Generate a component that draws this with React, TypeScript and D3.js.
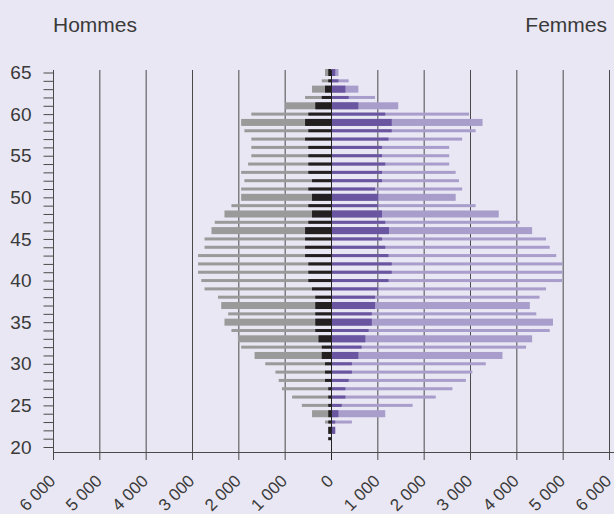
import * as d3 from 'd3';
import React, { useEffect, useRef } from 'react';

// Ages, from top to bottom
const ages = [65, 64, 63, 62, 61, 60, 59, 58, 57, 56, 55, 54, 53, 52, 51, 50, 49, 48, 47, 46, 45, 44, 43,
    42, 41, 40, 39, 38, 37, 36, 35, 34, 33, 32, 31, 30, 29, 28, 27, 26, 25, 24, 23, 22, 21];

// Hommes: total (gris) and inner part (noir)
const menTotal = [140, 210, 420, 570, 1000, 1730, 1950, 1880, 1730, 1730, 1730, 1800, 1950, 1880, 1950, 1950,
    2160, 2310, 2520, 2590, 2740, 2740, 2880, 2880, 2880, 2810, 2740, 2450, 2380, 2230, 2310, 2160, 2020, 1950,
    1660, 1430, 1210, 1140, 1070, 850, 640, 420, 140, 70, 70];
const menPart = [70, 70, 140, 210, 350, 500, 570, 500, 570, 500, 500, 500, 500, 420, 500, 420,
    500, 420, 500, 570, 570, 570, 570, 500, 500, 500, 420, 350, 350, 350, 350, 350, 280, 210,
    210, 140, 140, 140, 70, 70, 70, 70, 70, 70, 70];

// Femmes: inner part (violet foncé) and total (violet clair)
const womenPart = [80, 150, 300, 370, 580, 1160, 1300, 1300, 1230, 1090, 1090, 1160, 1090, 1090, 940, 1010,
    1010, 1090, 1160, 1240, 1090, 1160, 1230, 1300, 1300, 1230, 1010, 940, 940, 870, 870, 800, 730, 650,
    580, 440, 440, 370, 300, 300, 220, 150, 80, 80, 0];
const womenTotal = [150, 370, 580, 940, 1440, 2970, 3260, 3110, 2820, 2540, 2540, 2540, 2680, 2750, 2820, 2680,
    3110, 3610, 4060, 4330, 4630, 4710, 4850, 4990, 4990, 4980, 4630, 4490, 4280, 4420, 4780, 4710, 4330, 4200,
    3690, 3330, 3040, 2900, 2610, 2250, 1750, 1160, 440, 80, 0];

// ages drawn with a wide bar
const wideAges = [65, 63, 61, 59, 50, 48, 46, 37, 35, 33, 31, 24, 22];

const xTicks = [0, 1000, 2000, 3000, 4000, 5000, 6000];
const yTicks = [20, 25, 30, 35, 40, 45, 50, 55, 60, 65];

function PyramidChart() {
    const ref = useRef(null);

    useEffect(() => {
        const width = 614;
        const height = 514;
        const font = '"Liberation Sans", Arial, sans-serif';
        const textColor = '#3a3a3a';
        const gridColor = '#4a4a4a';

        const svg = d3.select(ref.current);
        svg.selectAll('*').remove();
        svg.attr('width', width).attr('height', height);

        svg.append('rect')
            .attr('width', width)
            .attr('height', height)
            .attr('fill', '#e9e7f3');

        // scales: men to the left, women to the right
        const xL = d3.scaleLinear().domain([0, 6000]).range([331.5, 53.5]);
        const xR = d3.scaleLinear().domain([0, 6000]).range([331.5, 609.5]);
        const y = d3.scaleLinear().domain([20, 65]).range([447, 72.5]);

        const gridTop = 70;
        const gridBottom = 460;
        const axisY = 452.5;

        // vertical gridlines (and ticks under the axis)
        const grid = svg.append('g');
        xTicks.forEach((v) => {
            [xL(v), xR(v)].forEach((px) => {
                grid.append('line')
                    .attr('x1', px).attr('x2', px)
                    .attr('y1', gridTop).attr('y2', gridBottom)
                    .attr('stroke', gridColor)
                    .attr('stroke-width', 1);
            });
        });

        // bars
        const rows = ages.map((age, i) => ({
            age,
            menTotal: menTotal[i],
            menPart: menPart[i],
            womenPart: womenPart[i],
            womenTotal: womenTotal[i],
        }));
        const barH = (d) => (wideAges.includes(d.age) ? 7 : 3);

        const bars = svg.append('g');
        bars.selectAll('.men-total').data(rows).join('rect')
            .attr('x', (d) => xL(d.menTotal))
            .attr('y', (d) => y(d.age) - barH(d) / 2)
            .attr('width', (d) => xL(0) - xL(d.menTotal))
            .attr('height', barH)
            .attr('fill', '#9a9a9a');
        bars.selectAll('.men-part').data(rows).join('rect')
            .attr('x', (d) => xL(d.menPart))
            .attr('y', (d) => y(d.age) - barH(d) / 2)
            .attr('width', (d) => xL(0) - xL(d.menPart))
            .attr('height', barH)
            .attr('fill', '#231f20');
        bars.selectAll('.women-total').data(rows).join('rect')
            .attr('x', xR(0))
            .attr('y', (d) => y(d.age) - barH(d) / 2)
            .attr('width', (d) => xR(d.womenTotal) - xR(0))
            .attr('height', barH)
            .attr('fill', '#a89dcb');
        bars.selectAll('.women-part').data(rows).join('rect')
            .attr('x', xR(0))
            .attr('y', (d) => y(d.age) - barH(d) / 2)
            .attr('width', (d) => xR(d.womenPart) - xR(0))
            .attr('height', barH)
            .attr('fill', '#6a55a0');

        // zero line on top of the bars
        svg.append('line')
            .attr('x1', xL(0)).attr('x2', xL(0))
            .attr('y1', gridTop).attr('y2', gridBottom)
            .attr('stroke', '#222')
            .attr('stroke-width', 1);

        // y axis
        const yAxis = svg.append('g')
            .attr('transform', `translate(${xL(6000)},0)`)
            .call(d3.axisLeft(y)
                .tickValues(d3.range(20, 66))
                .tickSize(10)
                .tickSizeOuter(0)
                .tickPadding(12)
                .tickFormat((d) => (yTicks.includes(d) ? String(d) : '')));
        yAxis.select('.domain').remove();
        yAxis.selectAll('line').attr('stroke', gridColor);
        yAxis.selectAll('text')
            .attr('fill', textColor)
            .style('font-family', font)
            .style('font-size', '19px');
        svg.append('line')
            .attr('x1', xL(6000)).attr('x2', xL(6000))
            .attr('y1', gridTop).attr('y2', gridBottom)
            .attr('stroke', gridColor);

        // x axis line
        svg.append('line')
            .attr('x1', xL(6000)).attr('x2', width)
            .attr('y1', axisY).attr('y2', axisY)
            .attr('stroke', gridColor);

        // x tick labels, rotated
        const fmt = (v) => d3.format(',')(v).replace(',', ' ');
        const labels = [
            ...xTicks.map((v) => ({ v, px: xL(v) })),
            ...xTicks.filter((v) => v > 0).map((v) => ({ v, px: xR(v) })),
        ];
        svg.append('g').selectAll('text').data(labels).join('text')
            .attr('transform', (d) => `translate(${d.px + 3},482) rotate(-45)`)
            .attr('text-anchor', 'end')
            .attr('fill', textColor)
            .style('font-family', font)
            .style('font-size', '17px')
            .text((d) => fmt(d.v));

        // titles
        svg.append('text')
            .attr('x', 53)
            .attr('y', 32)
            .attr('fill', textColor)
            .style('font-family', font)
            .style('font-size', '21px')
            .text('Hommes');
        svg.append('text')
            .attr('x', 607)
            .attr('y', 32)
            .attr('text-anchor', 'end')
            .attr('fill', textColor)
            .style('font-family', font)
            .style('font-size', '21px')
            .text('Femmes');
    }, []);

    return (
        <div style={{ position: 'absolute', left: 0, top: 0 }}>
            <svg ref={ref} style={{ display: 'block' }} />
        </div>
    );
}

export default function App() {
    return <PyramidChart />;
}
